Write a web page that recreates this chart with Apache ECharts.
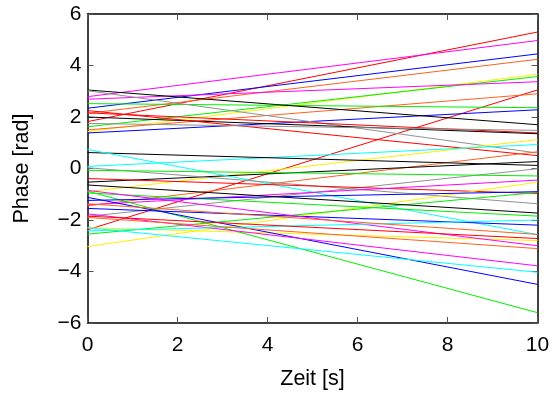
<!DOCTYPE html>
<html>
<head>
<meta charset="utf-8">
<script src="https://cdn.jsdelivr.net/npm/echarts@6/dist/echarts.min.js"></script>
<style>
  html, body { margin: 0; padding: 0; background: #fff; }
  #chart { width: 556px; height: 395px; }
</style>
</head>
<body>
<div id="chart"></div>
<script>
// Zeitpunkte (Anfang und Ende jeder Geraden)
var times = [0, 10];
// Phase bei t = 0
var phaseStart = [
  1.82, 2.79, 2.34, 2.14, 1.43, 1.62, 2.69, -2.38, 1.50, 2.52,
  1.38, 3.05, 3.02, 2.16, 2.00, 2.25, 1.75, -0.90, 0.08, -1.45,
  0.62, -0.53, 0.74, 0.03, -1.86, -0.07, -0.39, -1.41, -3.03, -2.30,
  -0.95, -0.88, -2.55, -1.12, -1.24, -1.55, -0.64, -0.85, -1.76, -2.30,
  -2.42, -1.85, -1.37, -1.90
];
// Phase bei t = 10
var phaseEnd = [
  5.30, 4.97, 4.45, 4.24, 3.66, 3.57, 3.37, 3.05, 2.90, 2.36,
  2.28, 1.70, 0.60, 1.38, 1.35, 0.50, 1.48, 1.12, 0.93, 0.65,
  0.12, 0.27, -2.57, -1.37, -0.01, -0.29, -0.97, -0.45, -0.53, -2.80,
  -1.85, -5.60, -0.93, -4.50, -0.90, -2.20, -1.73, -3.00, -3.78, -4.03,
  -2.00, -2.72, -2.56, -3.11
];
var lineColors = [
  "#ff0000", "#ff00ff", "#0000ff", "#ff6020", "#ffee00", "#00ee00", "#ff00ff", "#ff0000", "#ff6020", "#00ee00",
  "#0000ff", "#000000", "#909090", "#ff0000", "#000000", "#ff0000", "#909090", "#ffee00", "#00ffff", "#ff6020",
  "#000000", "#000000", "#00ffff", "#909090", "#909090", "#00ee00", "#ff0000", "#ff00ff", "#ffee00", "#ffee00",
  "#00ee00", "#00ee00", "#00ee00", "#0000ff", "#0000ff", "#0000ff", "#000000", "#ff00ff", "#ff00ff", "#00ffff",
  "#00ffff", "#ff0000", "#ff6020", "#ff6020"
];
var xTicks = [0, 2, 4, 6, 8, 10];
var yTicks = [-6, -4, -2, 0, 2, 4, 6];

var font = "'Liberation Sans', Arial, sans-serif";
function minus(v) { return String(v).replace("-", "\u2212"); }

var series = [];
for (var i = 0; i < phaseStart.length; i++) {
  series.push({
    type: "line",
    data: [[times[0], phaseStart[i]], [times[1], phaseEnd[i]]],
    symbol: "none",
    silent: true,
    lineStyle: { color: lineColors[i], width: 1 }
  });
}

var myChart = echarts.init(document.getElementById("chart"), null, { renderer: "canvas" });
var axisLine = { show: true, onZero: false, lineStyle: { color: "#000", width: 1.5 } };
var tick = { show: true, inside: true, length: 6, lineStyle: { color: "#555", width: 1 } };
var option = {
  animation: false,
  grid: { left: 87.5, right: 18.5, top: 14, bottom: 71, containLabel: false },
  xAxis: [
    {
      type: "value", min: xTicks[0], max: xTicks[xTicks.length - 1], interval: 2,
      name: "Zeit [s]", nameLocation: "middle", nameGap: 45,
      nameTextStyle: { fontFamily: font, fontSize: 21.5, color: "#000" },
      axisLine: axisLine, axisTick: tick, splitLine: { show: false },
      axisLabel: { fontFamily: font, fontSize: 21, color: "#000", margin: 12 }
    },
    {
      type: "value", position: "top", min: 0, max: 10, interval: 2,
      axisLine: axisLine, axisTick: tick, splitLine: { show: false },
      axisLabel: { show: false }
    }
  ],
  yAxis: [
    {
      type: "value", min: yTicks[0], max: yTicks[yTicks.length - 1], interval: 2,
      name: "Phase [rad]", nameLocation: "middle", nameGap: 54,
      nameTextStyle: { fontFamily: font, fontSize: 21.5, color: "#000" },
      axisLine: axisLine, axisTick: tick, splitLine: { show: false },
      axisLabel: { fontFamily: font, fontSize: 21, color: "#000", margin: 6, formatter: minus }
    },
    {
      type: "value", position: "right", min: -6, max: 6, interval: 2,
      axisLine: axisLine, axisTick: tick, splitLine: { show: false },
      axisLabel: { show: false }
    }
  ],
  series: series
};
myChart.setOption(option);
</script>
</body>
</html>
